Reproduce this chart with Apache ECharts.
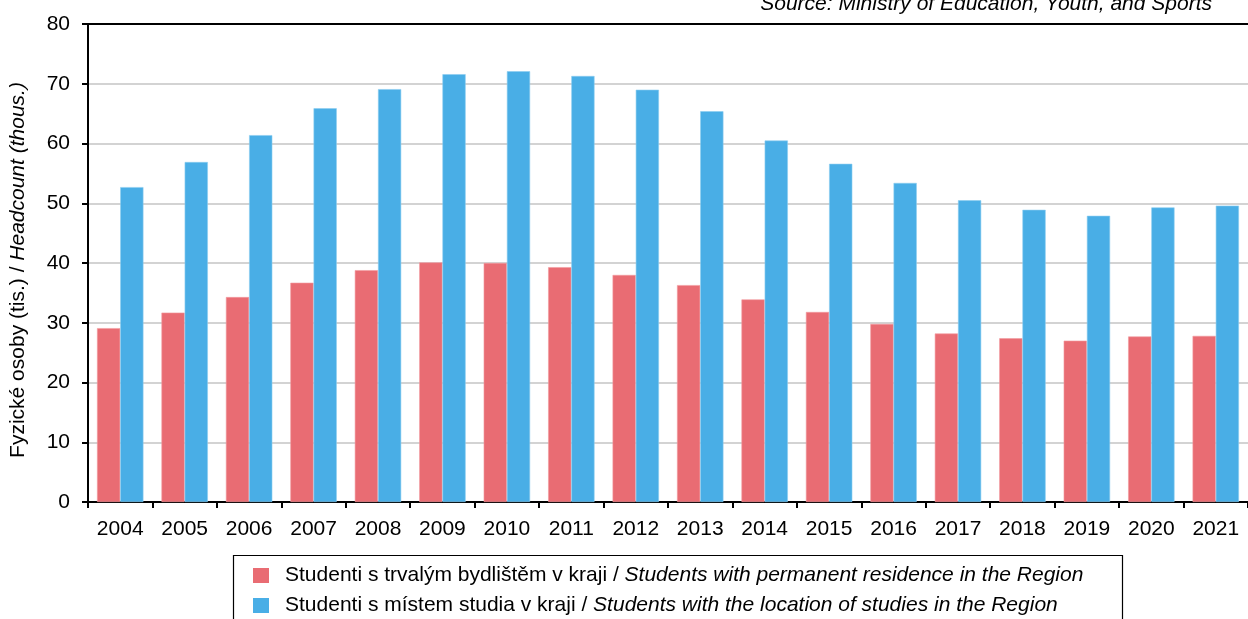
<!DOCTYPE html>
<html>
<head>
<meta charset="utf-8">
<script src="https://cdn.jsdelivr.net/npm/echarts@6/dist/echarts.min.js"></script>
<style>
  html, body { margin: 0; padding: 0; background: #fff; }
  #chart { width: 1248px; height: 619px; }
</style>
</head>
<body>
<div id="chart"></div>
<script>
// Years shown on the category axis
const years = ['2004','2005','2006','2007','2008','2009','2010','2011','2012',
               '2013','2014','2015','2016','2017','2018','2019','2020','2021'];

// Students with permanent residence in the region (thousands)
const residenceStudents = [29.1, 31.7, 34.3, 36.7, 38.8, 40.1, 40.0, 39.3, 38.0,
                           36.3, 33.9, 31.8, 29.8, 28.2, 27.4, 27.0, 27.7, 27.8];

// Students studying at schools located in the region (thousands)
const locationStudents = [52.7, 56.9, 61.4, 65.9, 69.1, 71.6, 72.1, 71.3, 69.0,
                          65.4, 60.5, 56.6, 53.4, 50.5, 48.9, 47.9, 49.3, 49.6];

// Legend captions: Czech part upright, English part italic
const seriesCz = ['Studenti s trvalým bydlištěm v kraji / ', 'Studenti s místem studia v kraji / '];
const seriesEn = ['Students with permanent residence in the Region', 'Students with the location of studies in the Region'];

const axisTitleCz = 'Fyzické osoby (tis.) / ';
const axisTitleEn = 'Headcount (thous.)';
const sourceText = 'Source: Ministry of Education, Youth, and Sports';

const FONT = '"Liberation Sans", Arial, Helvetica, sans-serif';
const FS = 21;
const RED = '#E96C73';
const BLUE = '#49AEE6';

const chart = echarts.init(document.getElementById('chart'), null, { renderer: 'canvas' });

chart.setOption({
  animation: false,
  backgroundColor: '#ffffff',
  textStyle: { fontFamily: FONT },
  grid: { left: 88, top: 24, width: 1166, height: 478 },
  legend: {
    orient: 'vertical',
    left: 253,
    top: 565,
    height: 60,
    padding: 0,
    itemWidth: 16,
    itemHeight: 15,
    itemGap: 9,
    icon: 'rect',
    selectedMode: false,
    data: ['res', 'loc'],
    itemStyle: { borderWidth: 0 },
    formatter: function (name) {
      const i = name === 'res' ? 0 : 1;
      return '{cz|' + seriesCz[i] + '}{en|' + seriesEn[i] + '}';
    },
    textStyle: {
      fontFamily: FONT,
      fontSize: FS,
      color: '#000',
      padding: [0, 0, 0, 11],
      rich: {
        cz: { fontFamily: FONT, fontSize: FS, color: '#000', lineHeight: 22 },
        en: { fontFamily: FONT, fontSize: FS, color: '#000', fontStyle: 'italic', lineHeight: 22 }
      }
    }
  },
  xAxis: [
    {
      type: 'category',
      data: years,
      position: 'bottom',
      axisLine: { show: true, lineStyle: { color: '#000', width: 2 } },
      axisTick: { show: true, inside: false, length: 6, lineStyle: { color: '#000', width: 2 } },
      axisLabel: { color: '#000', fontSize: FS, fontFamily: FONT, margin: 17 },
      splitLine: { show: false }
    },
    {
      // closing rule along the top of the plot
      type: 'category',
      data: years,
      position: 'top',
      axisLine: { show: true, lineStyle: { color: '#000', width: 2 } },
      axisTick: { show: false },
      axisLabel: { show: false },
      splitLine: { show: false }
    }
  ],
  yAxis: {
    type: 'value',
    min: 0,
    max: 80,
    interval: 10,
    axisLine: { show: true, lineStyle: { color: '#000', width: 2 } },
    axisTick: { show: true, inside: false, length: 6, lineStyle: { color: '#000', width: 2 } },
    axisLabel: { color: '#000', fontSize: FS, fontFamily: FONT, margin: 18 },
    splitLine: { show: true, lineStyle: { color: '#c4c4c4', width: 1.5 } }
  },
  series: [
    {
      name: 'res',
      type: 'bar',
      data: residenceStudents,
      barWidth: '36%',
      barGap: '0%',
      itemStyle: { color: RED, borderColor: '#f19aa0', borderWidth: 0.6 }
    },
    {
      name: 'loc',
      type: 'bar',
      data: locationStudents,
      barWidth: '36%',
      barGap: '0%',
      itemStyle: { color: BLUE, borderColor: '#8cccf0', borderWidth: 0.6 }
    }
  ],
  graphic: [
    {
      type: 'text',
      x: 18,
      y: 270,
      rotation: Math.PI / 2,
      style: {
        text: '{cz|' + axisTitleCz + '}{en|' + axisTitleEn + '}',
        align: 'center',
        verticalAlign: 'middle',
        rich: {
          cz: { fontFamily: FONT, fontSize: FS, fill: '#000' },
          en: { fontFamily: FONT, fontSize: FS, fill: '#000', fontStyle: 'italic' }
        }
      }
    },
    {
      type: 'text',
      x: 1212,
      y: 15,
      style: {
        text: sourceText,
        align: 'right',
        verticalAlign: 'bottom',
        fontFamily: FONT,
        fontSize: FS,
        fontStyle: 'italic',
        fill: '#000'
      }
    },
    {
      type: 'rect',
      shape: { x: 233.5, y: 555.5, width: 889, height: 80 },
      style: { fill: 'none', stroke: '#000', lineWidth: 1.2 },
      z: -1
    }
  ]
});
</script>
</body>
</html>
